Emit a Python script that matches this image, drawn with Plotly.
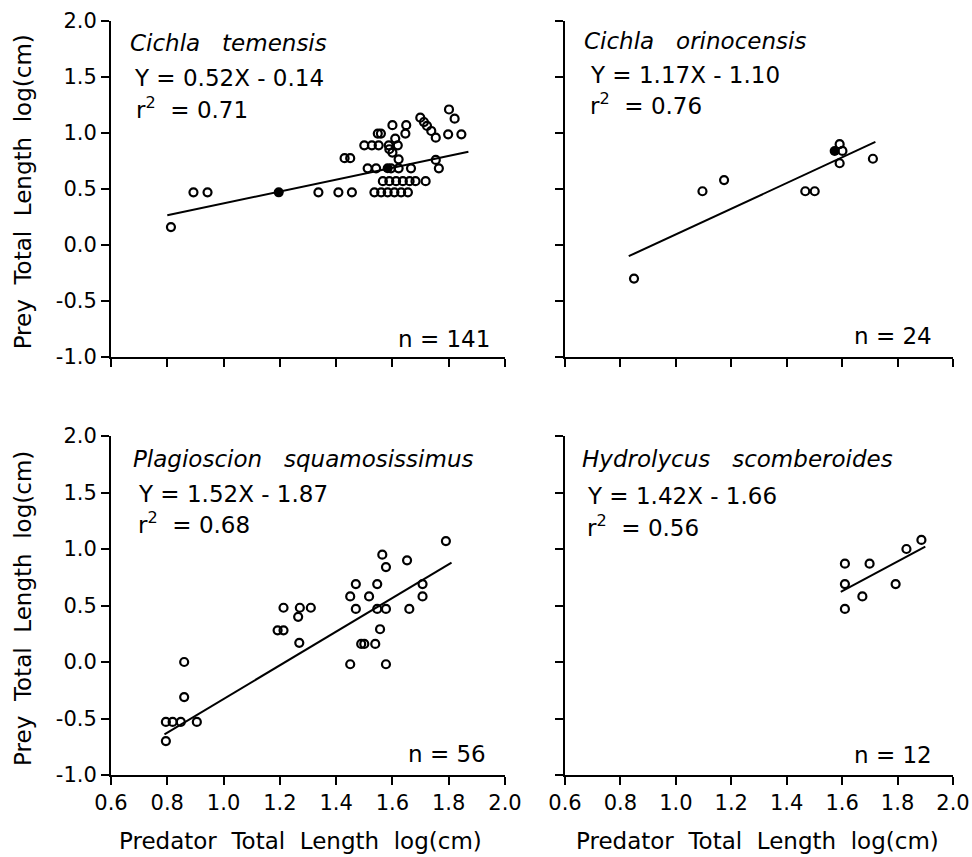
import plotly.graph_objects as go

# ---------------- data ----------------
x_ticks = [0.6, 0.8, 1.0, 1.2, 1.4, 1.6, 1.8, 2.0]
x_tick_labels = ["0.6", "0.8", "1.0", "1.2", "1.4", "1.6", "1.8", "2.0"]
y_ticks = [-1.0, -0.5, 0.0, 0.5, 1.0, 1.5, 2.0]
y_tick_labels = ["-1.0", "-0.5", "0.0", "0.5", "1.0", "1.5", "2.0"]

species = ["Cichla\u00a0\u00a0 temensis", "Cichla\u00a0\u00a0 orinocensis",
           "Plagioscion\u00a0\u00a0 squamosissimus", "Hydrolycus\u00a0\u00a0 scomberoides"]
equations = ["Y = 0.52X - 0.14", "Y = 1.17X - 1.10", "Y = 1.52X - 1.87", "Y = 1.42X - 1.66"]
r2_values = ["0.71", "0.76", "0.68", "0.56"]
n_values = ["141", "24", "56", "12"]

# Cichla temensis
ct_x = [0.813, 0.893, 0.943, 1.337, 1.408, 1.456,
        1.536, 1.56, 1.583, 1.607, 1.631, 1.655,
        1.566, 1.589, 1.613, 1.637, 1.661, 1.682, 1.718,
        1.512, 1.542, 1.595, 1.622, 1.666, 1.765,
        1.754, 1.622, 1.43, 1.45, 1.60, 1.589,
        1.50, 1.527, 1.551, 1.587, 1.619, 1.61,
        1.548, 1.559, 1.646, 1.60, 1.649,
        1.699, 1.712, 1.723, 1.738, 1.754,
        1.801, 1.821, 1.798, 1.845]
ct_y = [0.16, 0.47, 0.47, 0.47, 0.47, 0.47,
        0.47, 0.47, 0.47, 0.47, 0.47, 0.47,
        0.57, 0.57, 0.57, 0.57, 0.57, 0.57, 0.57,
        0.685, 0.685, 0.685, 0.685, 0.685, 0.685,
        0.76, 0.765, 0.775, 0.775, 0.825, 0.855,
        0.89, 0.89, 0.89, 0.89, 0.89, 0.95,
        0.995, 0.995, 0.995, 1.07, 1.07,
        1.137, 1.098, 1.063, 1.018, 0.958,
        1.21, 1.128, 0.988, 0.988]
ct_fill_x = [1.196, 1.583]
ct_fill_y = [0.47, 0.685]
ct_line_x = [0.80, 1.87]
ct_line_y = [0.265, 0.833]

# Cichla orinocensis
co_x = [0.849, 1.096, 1.174, 1.467, 1.501, 1.591, 1.601, 1.591, 1.711]
co_y = [-0.30, 0.48, 0.58, 0.48, 0.48, 0.90, 0.84, 0.73, 0.77]
co_fill_x = [1.573]
co_fill_y = [0.84]
co_line_x = [0.83, 1.72]
co_line_y = [-0.10, 0.92]

# Plagioscion squamosissimus
ps_x = [0.795, 0.795, 0.819, 0.848, 0.905, 0.86, 0.86,
        1.192, 1.213, 1.213, 1.271, 1.31, 1.265, 1.269,
        1.45, 1.577, 1.45, 1.47, 1.47, 1.517, 1.546, 1.546, 1.577,
        1.556, 1.489, 1.50, 1.539, 1.66, 1.707, 1.707,
        1.564, 1.577, 1.652, 1.79]
ps_y = [-0.70, -0.53, -0.53, -0.53, -0.53, -0.31, 0.0,
        0.28, 0.28, 0.48, 0.48, 0.48, 0.40, 0.17,
        -0.02, -0.02, 0.58, 0.69, 0.47, 0.58, 0.69, 0.47, 0.47,
        0.29, 0.16, 0.16, 0.16, 0.47, 0.69, 0.58,
        0.95, 0.84, 0.90, 1.07]
ps_line_x = [0.79, 1.81]
ps_line_y = [-0.64, 0.88]

# Hydrolycus scomberoides
hs_x = [1.61, 1.61, 1.61, 1.673, 1.699, 1.793, 1.832, 1.886]
hs_y = [0.87, 0.69, 0.47, 0.58, 0.87, 0.69, 1.00, 1.08]
hs_line_x = [1.595, 1.90]
hs_line_y = [0.62, 1.02]

# ---------------- figure ----------------
W, H = 972, 857
FONT = "DejaVu Sans, Liberation Sans, Arial, sans-serif"

fig = go.Figure()

panels = [
    (ct_x, ct_y, ct_fill_x, ct_fill_y, ct_line_x, ct_line_y, "x", "y"),
    (co_x, co_y, co_fill_x, co_fill_y, co_line_x, co_line_y, "x2", "y2"),
    (ps_x, ps_y, [], [], ps_line_x, ps_line_y, "x3", "y3"),
    (hs_x, hs_y, [], [], hs_line_x, hs_line_y, "x4", "y4"),
]

for px, py, fx, fy, lx, ly, xa, ya in panels:
    fig.add_trace(go.Scatter(x=lx, y=ly, mode="lines", xaxis=xa, yaxis=ya,
                             line=dict(color="black", width=2), showlegend=False,
                             hoverinfo="skip"))
    fig.add_trace(go.Scatter(x=px, y=py, mode="markers", xaxis=xa, yaxis=ya,
                             marker=dict(symbol="circle-open", size=8, color="black",
                                         line=dict(width=2.2, color="black")),
                             showlegend=False))
    if fx:
        fig.add_trace(go.Scatter(x=fx, y=fy, mode="markers", xaxis=xa, yaxis=ya,
                                 marker=dict(symbol="circle", size=10, color="black"),
                                 showlegend=False))

left_dom = [111 / W, 505 / W]
right_dom = [565 / W, 953 / W]
top_dom = [1 - 357 / H, 1 - 21 / H]
bot_dom = [1 - 775 / H, 1 - 436 / H]

def xax(dom, anchor, labels):
    return dict(domain=dom, anchor=anchor, range=[0.6, 2.0], showgrid=False, zeroline=False,
                automargin=False,
                showline=True, linecolor="black", linewidth=2, ticks="outside",
                ticklen=8, tickwidth=2, tickcolor="black", tickvals=x_ticks,
                ticktext=x_tick_labels, showticklabels=labels,
                tickfont=dict(family=FONT, size=21, color="black"))

def yax(dom, anchor, labels):
    return dict(domain=dom, anchor=anchor, range=[-1.0, 2.0], showgrid=False, zeroline=False,
                automargin=False,
                showline=True, linecolor="black", linewidth=2, ticks="outside",
                ticklen=8, tickwidth=2, tickcolor="black", tickvals=y_ticks,
                ticktext=y_tick_labels, showticklabels=labels,
                tickfont=dict(family=FONT, size=21, color="black"))

fig.update_layout(
    width=W, height=H, margin=dict(l=0, r=0, t=0, b=0, autoexpand=False),
    paper_bgcolor="white", plot_bgcolor="white",
    xaxis=xax(left_dom, "y", False), yaxis=yax(top_dom, "x", True),
    xaxis2=xax(right_dom, "y2", False), yaxis2=yax(top_dom, "x2", False),
    xaxis3=xax(left_dom, "y3", True), yaxis3=yax(bot_dom, "x3", True),
    xaxis4=xax(right_dom, "y4", True), yaxis4=yax(bot_dom, "x4", False),
)

# panel texts (positions in each panel's data coordinates)
text_pos = [
    # title(x,y), eq(x,y), r2(x,y), n(x,y)
    ((0.66, 1.80), (0.675, 1.49), (0.68, 1.22), (1.955, -0.84), "x", "y"),
    ((0.66, 1.82), (0.683, 1.52), (0.683, 1.26), (1.933, -0.81), "x2", "y2"),
    ((0.67, 1.80), (0.69, 1.49), (0.69, 1.23), (1.939, -0.81), "x3", "y3"),
    ((0.654, 1.80), (0.672, 1.47), (0.672, 1.20), (1.933, -0.82), "x4", "y4"),
]

annotations = []
for i, (tp, ep, rp, npos, xa, ya) in enumerate(text_pos):
    annotations.append(dict(x=tp[0], y=tp[1], xref=xa, yref=ya, text="<i>" + species[i] + "</i>",
                            showarrow=False, xanchor="left", yanchor="middle",
                            font=dict(family=FONT, size=23, color="black")))
    annotations.append(dict(x=ep[0], y=ep[1], xref=xa, yref=ya, text=equations[i],
                            showarrow=False, xanchor="left", yanchor="middle",
                            font=dict(family=FONT, size=23, color="black")))
    annotations.append(dict(x=rp[0], y=rp[1], xref=xa, yref=ya,
                            text="r<sup>2</sup>\u00a0 = " + r2_values[i],
                            showarrow=False, xanchor="left", yanchor="middle",
                            font=dict(family=FONT, size=23, color="black")))
    annotations.append(dict(x=npos[0], y=npos[1], xref=xa, yref=ya,
                            text="n = " + n_values[i],
                            showarrow=False, xanchor="right", yanchor="middle",
                            font=dict(family=FONT, size=23, color="black")))

ytitle = "Prey\u00a0 Total\u00a0 Length\u00a0 log(cm)"
xtitle = "Predator\u00a0 Total\u00a0 Length\u00a0 log(cm)"
for ya in ["y", "y3"]:
    annotations.append(dict(x=23 / W, y=0.49, xref="paper", yref=ya + " domain", text=ytitle,
                            textangle=-90, showarrow=False, xanchor="center", yanchor="middle",
                            font=dict(family=FONT, size=23, color="black")))
for xa, cx in [("x3", 300), ("x4", 757)]:
    annotations.append(dict(x=cx / W, y=1 - 841 / H, xref="paper", yref="paper", text=xtitle,
                            showarrow=False, xanchor="center", yanchor="middle",
                            font=dict(family=FONT, size=23, color="black")))

fig.update_layout(annotations=annotations)

fig.write_html("out.html")
